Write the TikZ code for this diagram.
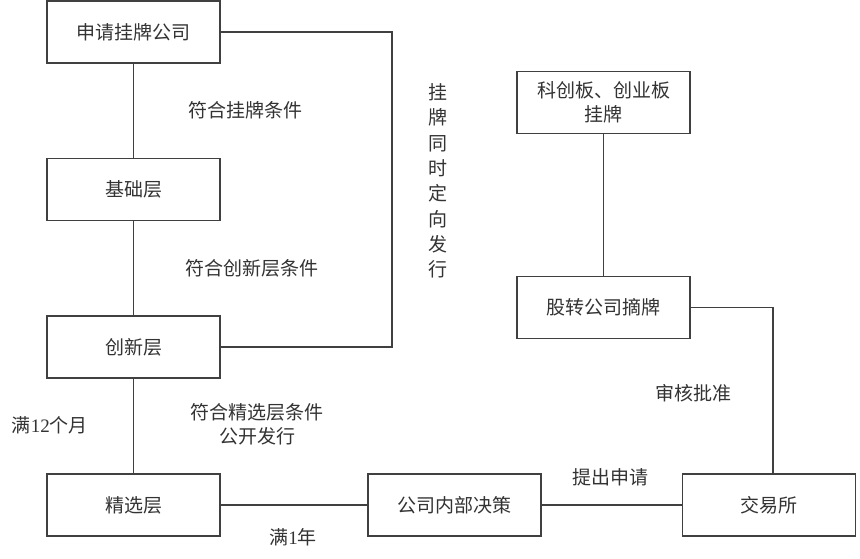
\documentclass[tikz,border=0pt]{standalone}
\usepackage{fontspec}
\setmainfont{Noto Sans CJK SC}
\newfontfamily\latinserif{Liberation Serif}
\definecolor{ln}{HTML}{404040}
\definecolor{tx}{HTML}{333333}
\begin{document}
\begin{tikzpicture}[x=1pt,y=-1pt,
  box/.style={draw=ln,line width=1.2pt,minimum width=173pt,minimum height=62pt,inner sep=0pt,align=center,text=tx,font=\fontsize{19}{24}\selectfont},
  conn/.style={draw=ln,line width=1.1pt},
  lbl/.style={text=tx,align=center,inner sep=0pt,font=\fontsize{19}{24}\selectfont}]
\useasboundingbox[fill=white] (0,0) rectangle (860,558);
\node[box] (a) at (133.5,32) {申请挂牌公司};
\node[box] (b) at (133.5,189.5) {基础层};
\node[box] (c) at (133.5,347) {创新层};
\node[box] (d) at (133.5,505) {精选层};
\node[box] (e) at (454.5,505) {公司内部决策};
\node[box] (f) at (769,505) {交易所};
\node[box] (g) at (603.5,307.5) {股转公司摘牌};
\node[box] (h) at (603.5,102.5) {科创板、创业板\\挂牌};
\coordinate (p1) at (392,32);
\coordinate (p2) at (392,347);
\coordinate (p3) at (773,307.5);
\draw[conn] (a) -- (b);
\draw[conn] (b) -- (c);
\draw[conn] (c) -- (d);
\draw[conn] (d) -- (e);
\draw[conn] (e) -- (f);
\draw[conn] (h) -- (g);
\draw[conn] (a.east) -- (p1) -- (p2) -- (c.east);
\draw[conn] (g.east) -- (p3) -- (f.north -| p3);
\node[lbl] (l1) at (245,110) {符合挂牌条件};
\node[lbl] (l2) at (252,268) {符合创新层条件};
\node[lbl] (l3) at (257,424) {符合精选层条件\\公开发行};
\node[lbl] (l4) at (50,425) {满{\latinserif 12}个月};
\node[lbl] (l5) at (293,537) {满{\latinserif 1}年};
\node[lbl] (l6) at (610,477) {提出申请};
\node[lbl] (l7) at (693,393) {审核批准};
\node[lbl,font=\fontsize{19}{25.3}\selectfont] (l8) at (438,181) {挂\\牌\\同\\时\\定\\向\\发\\行};
\end{tikzpicture}
\end{document}
